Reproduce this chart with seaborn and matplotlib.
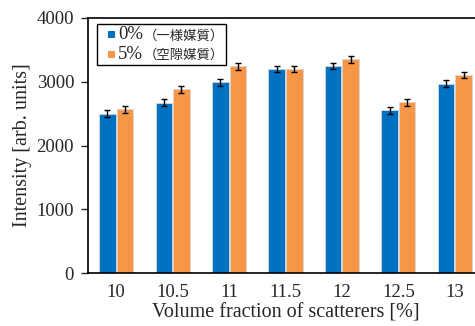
import matplotlib
matplotlib.use("Agg")
import matplotlib.pyplot as plt
import seaborn as sns
import pandas as pd
import numpy as np
from matplotlib.offsetbox import AnchoredOffsetbox, HPacker, VPacker, TextArea, DrawingArea
from matplotlib.patches import Rectangle

categories = ["10", "10.5", "11", "11.5", "12", "12.5", "13"]
series_num = ["0%", "5%"]
series_jp = ["（一様媒質）", "（空隙媒質）"]
uniform_vals = [2500, 2670, 2990, 3200, 3250, 2550, 2970]
porous_vals = [2570, 2880, 3240, 3200, 3350, 2680, 3110]
uniform_err = [60, 55, 55, 50, 50, 60, 55]
porous_err = [55, 55, 50, 50, 50, 55, 50]
colors = ["#0070C0", "#F79646"]

sns.set_theme(style="white")
plt.rcParams['font.family'] = ['Liberation Serif', 'Noto Sans CJK JP']

series_names = [a + b for a, b in zip(series_num, series_jp)]
df = pd.DataFrame({
    "cat": categories * 2,
    "series": [series_names[0]] * len(categories) + [series_names[1]] * len(categories),
    "val": uniform_vals + porous_vals,
})

fig = plt.figure(figsize=(4.75, 3.26), dpi=100)
ax = fig.add_axes([88/475, 1 - 273/326, (483-88)/475, (273-18)/326])

sns.barplot(data=df, x="cat", y="val", hue="series", palette=colors,
            width=0.62, gap=0.05, errorbar=None, ax=ax, legend=False,
            edgecolor="#d8d8d8", linewidth=0.6, saturation=1)

# error bars at bar centres
errs = uniform_err + porous_err
vals = uniform_vals + porous_vals
bars = [p for p in ax.patches if p.get_height() > 0][:len(vals)]
xs = [p.get_x() + p.get_width() / 2 for p in bars]
hs = [p.get_height() for p in bars]
ax.errorbar(xs, hs, yerr=errs, fmt="none", ecolor="black", elinewidth=1.0,
            capsize=2.2, capthick=1.0, zorder=5)

ax.set_xlim(-0.5, 6.5)
ax.set_ylim(0, 4000)
ax.set_yticks([0, 1000, 2000, 3000, 4000])
ax.set_xlabel("Volume fraction of scatterers [%]", fontsize=14.5, labelpad=2)
ax.set_ylabel("Intensity [arb. units]", fontsize=14.5, labelpad=3)
ax.tick_params(axis="y", direction="out", length=5, width=1, labelsize=13.5, pad=5, left=True)
ax.tick_params(axis="x", length=0, labelsize=13.5, pad=8)
for s in ax.spines.values():
    s.set_color("black")
    s.set_linewidth(1.2)

# legend with mixed font sizes (Latin serif + smaller CJK)
rows = []
for num, jp, c in zip(series_num, series_jp, colors):
    lead = DrawingArea(3.5, 1, 0, 0)
    da = DrawingArea(5.2, 5.2, 0, 0)
    da.add_artist(Rectangle((0, 0), 5.2, 5.2, facecolor=c, edgecolor="none"))
    t1 = TextArea(num, textprops=dict(fontsize=13.5, family="Liberation Serif"))
    t2 = TextArea(jp, textprops=dict(fontsize=9.6, family=["Noto Sans CJK JP"]))
    label = HPacker(children=[t1, t2], align="baseline", pad=0, sep=0)
    rows.append(HPacker(children=[lead, da, label], align="center", pad=0, sep=2.5))
box = VPacker(children=rows, align="left", pad=0, sep=1.8)
anch = AnchoredOffsetbox(loc="upper left", child=box, pad=0.15, borderpad=0,
                         frameon=True, bbox_to_anchor=(97/475, 1 - 24/326),
                         bbox_transform=fig.transFigure)
anch.patch.set_boxstyle("square", pad=0)
anch.patch.set_edgecolor("black")
anch.patch.set_linewidth(1.0)
anch.set_zorder(10)
ax.add_artist(anch)

fig.savefig("out.png", dpi=100)
